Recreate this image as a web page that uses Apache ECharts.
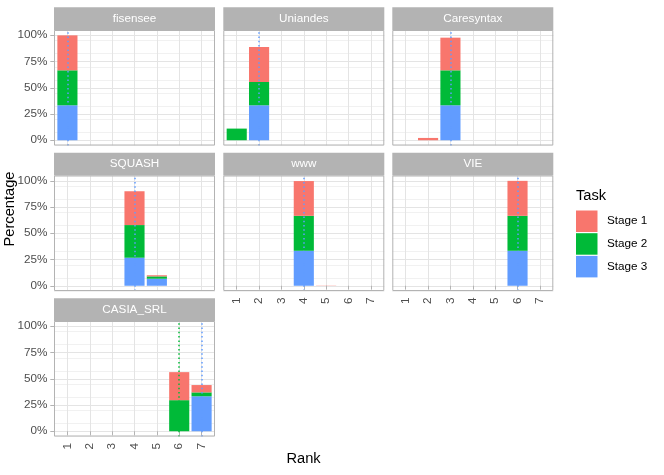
<!DOCTYPE html>
<html><head><meta charset="utf-8">
<script src="https://cdn.jsdelivr.net/npm/echarts@6/dist/echarts.min.js"></script>
<style>html,body{margin:0;padding:0;background:#fff}#c{width:664px;height:475px}</style>
</head><body><div id="c"></div>
<script>
// ---------- data ----------
const facets = ['fisensee', 'Uniandes', 'Caresyntax', 'SQUASH', 'www', 'VIE', 'CASIA_SRL'];
const ranks = ['1', '2', '3', '4', '5', '6', '7'];
const stageNames = ['Stage 1', 'Stage 2', 'Stage 3'];
const stageColors = ['#F8766D', '#00BA38', '#619CFF'];
const yTicks = [0, 25, 50, 75, 100];

// percentage per rank (1..7) for each facet
const stage1Pct = [
  [33.3, 0, 0, 0, 0, 0, 0],
  [0, 33.3, 0, 0, 0, 0, 0],
  [0, 2.2, 31.1, 0, 0, 0, 0],
  [0, 0, 0, 32.2, 1.1, 0, 0],
  [0, 0, 0, 33.1, 0.2, 0, 0],
  [0, 0, 0, 0, 0, 33.3, 0],
  [0, 0, 0, 0, 0, 26.7, 7.0]
];
const stage2Pct = [
  [33.3, 0, 0, 0, 0, 0, 0],
  [11.1, 22.2, 0, 0, 0, 0, 0],
  [0, 0, 33.3, 0, 0, 0, 0],
  [0, 0, 0, 31.1, 2.2, 0, 0],
  [0, 0, 0, 33.3, 0, 0, 0],
  [0, 0, 0, 0, 0, 33.3, 0],
  [0, 0, 0, 0, 0, 29.6, 3.7]
];
const stage3Pct = [
  [33.3, 0, 0, 0, 0, 0, 0],
  [0, 33.3, 0, 0, 0, 0, 0],
  [0, 0, 33.3, 0, 0, 0, 0],
  [0, 0, 0, 26.7, 6.7, 0, 0],
  [0, 0, 0, 33.3, 0, 0, 0],
  [0, 0, 0, 0, 0, 33.3, 0],
  [0, 0, 0, 0, 0, 0, 33.3]
];
// dotted reference lines per facet
const vlineRanks = [['1'], ['2'], ['3'], ['4'], ['4'], ['6'], ['6', '7']];
const vlineStages = [['Stage 3'], ['Stage 3'], ['Stage 3'], ['Stage 3'], ['Stage 3'], ['Stage 3'], ['Stage 2', 'Stage 3']];

// ---------- layout ----------
const FONT = 'Liberation Sans, Arial, sans-serif';
const colLeft = [54, 223.3, 392.3];
const rowTop = [30, 175.5, 321];
const panelW = 161, panelH = 115.5, stripH = 22.7;
const MAJOR = '#E4E4E4', MINOR = '#F1F1F1', GREY70 = '#B3B3B3', AXT = '#4D4D4D';
const stageData = [stage1Pct, stage2Pct, stage3Pct];
const rankPos = ranks.map((r, i) => i + 1);

const grids = [], xAxes = [], yAxes = [], series = [], graphics = [];

facets.forEach((name, p) => {
  const r = Math.floor(p / 3), c = p % 3;
  const left = colLeft[c], top = rowTop[r];
  const showX = p + 3 >= facets.length;
  const showY = c === 0;

  // frame grid (gridlines, ticks, labels)
  const gA = grids.length;
  grids.push({ left: left, top: top, width: panelW, height: panelH, show: true, backgroundColor: '#fff', borderWidth: 0 });
  xAxes.push({
    type: 'value', gridIndex: gA, position: 'bottom', min: 0.4, max: 7.6, interval: 1,
    axisLine: { show: false },
    axisTick: { show: showX, length: 3.7, customValues: rankPos, lineStyle: { color: GREY70, width: 1 } },
    axisLabel: {
      show: showX, rotate: 90, margin: 6.6, fontSize: 11.7, color: AXT, fontFamily: FONT,
      customValues: rankPos,
      formatter: v => (Math.abs(v - Math.round(v)) < 1e-6 && v >= 1 && v <= 7) ? ranks[Math.round(v) - 1] : ''
    },
    splitLine: { show: true, lineStyle: { color: MAJOR, width: 1 } }
  });
  yAxes.push({
    type: 'value', gridIndex: gA, position: 'left', min: -5, max: 105, interval: 12.5,
    axisLine: { show: false }, axisTick: { show: false }, axisLabel: { show: false },
    splitLine: { show: true, lineStyle: { color: MINOR, width: 1 } }
  });
  yAxes.push({
    type: 'value', gridIndex: gA, position: 'left', min: -5, max: 105, interval: 25,
    axisLine: { show: false },
    axisTick: { show: showY, length: 3.7, customValues: yTicks, lineStyle: { color: GREY70, width: 1 } },
    axisLabel: {
      show: showY, margin: 6.6, fontSize: 11.7, color: AXT, fontFamily: FONT,
      customValues: yTicks,
      formatter: v => (v >= 0 && v <= 100 && v % 25 === 0) ? v + '%' : ''
    },
    splitLine: { show: true, lineStyle: { color: MAJOR, width: 1 } }
  });

  // bar grid (inset to mimic discrete expansion 0.6)
  const gB = grids.length;
  grids.push({ left: left + panelW * 0.1 / 7.2, top: top, width: panelW * 7 / 7.2, height: panelH });
  const xB = xAxes.length;
  xAxes.push({ type: 'category', gridIndex: gB, data: ranks, show: false, boundaryGap: true });
  const yB = yAxes.length;
  yAxes.push({ type: 'value', gridIndex: gB, min: -5, max: 105, show: false });

  [2, 1, 0].forEach(s => {
    const lines = [];
    vlineRanks[p].forEach((rk, k) => {
      if (vlineStages[p][k] === stageNames[s]) lines.push({ xAxis: rk });
    });
    series.push({
      type: 'bar', name: stageNames[s], xAxisIndex: xB, yAxisIndex: yB, stack: 'p' + p,
      barWidth: '90%', data: stageData[s][p],
      itemStyle: { color: stageColors[s] },
      emphasis: { disabled: true },
      markLine: lines.length ? {
        silent: true, symbol: ['none', 'none'], label: { show: false },
        lineStyle: { color: stageColors[s], type: [1.5, 2.8], width: 1.5, opacity: 1 },
        emphasis: { disabled: true },
        data: lines
      } : undefined
    });
  });

  // strip
  graphics.push({ type: 'rect', shape: { x: left, y: top - stripH, width: panelW, height: stripH }, style: { fill: GREY70 }, z: 50 });
  graphics.push({ type: 'text', x: left + panelW / 2, y: top - stripH / 2, style: { text: name, fill: '#fff', font: '11.7px ' + FONT, textAlign: 'center', textVerticalAlign: 'middle' }, z: 51 });
  // panel border
  graphics.push({ type: 'rect', shape: { x: left + 0.5, y: top + 0.5, width: panelW - 1, height: panelH - 1 }, style: { fill: null, stroke: GREY70, lineWidth: 1 }, z: 50 });
});

graphics.push({ type: 'text', x: 10, y: 209, rotation: Math.PI / 2, style: { text: 'Percentage', fill: '#000', font: '14.67px ' + FONT, textAlign: 'center', textVerticalAlign: 'middle' }, z: 51 });
graphics.push({ type: 'text', x: 303.5, y: 459, style: { text: 'Rank', fill: '#000', font: '14.67px ' + FONT, textAlign: 'center', textVerticalAlign: 'middle' }, z: 51 });
graphics.push({ type: 'text', x: 576, y: 196, style: { text: 'Task', fill: '#000', font: '14.67px ' + FONT, textAlign: 'left', textVerticalAlign: 'middle' }, z: 51 });

const chart = echarts.init(document.getElementById('c'), null, { renderer: 'canvas' });
chart.setOption({
  animation: false,
  backgroundColor: '#fff',
  grid: grids,
  xAxis: xAxes,
  yAxis: yAxes,
  legend: {
    data: stageNames, orient: 'vertical', left: 576, top: 210.5, padding: 0,
    itemWidth: 21.5, itemHeight: 21.5, itemGap: 1.2, icon: 'rect', selectedMode: false,
    textStyle: { fontSize: 11.7, color: '#000', fontFamily: FONT, padding: [0, 0, 0, 4.5] }
  },
  graphic: graphics,
  series: series
});
</script>
</body></html>
